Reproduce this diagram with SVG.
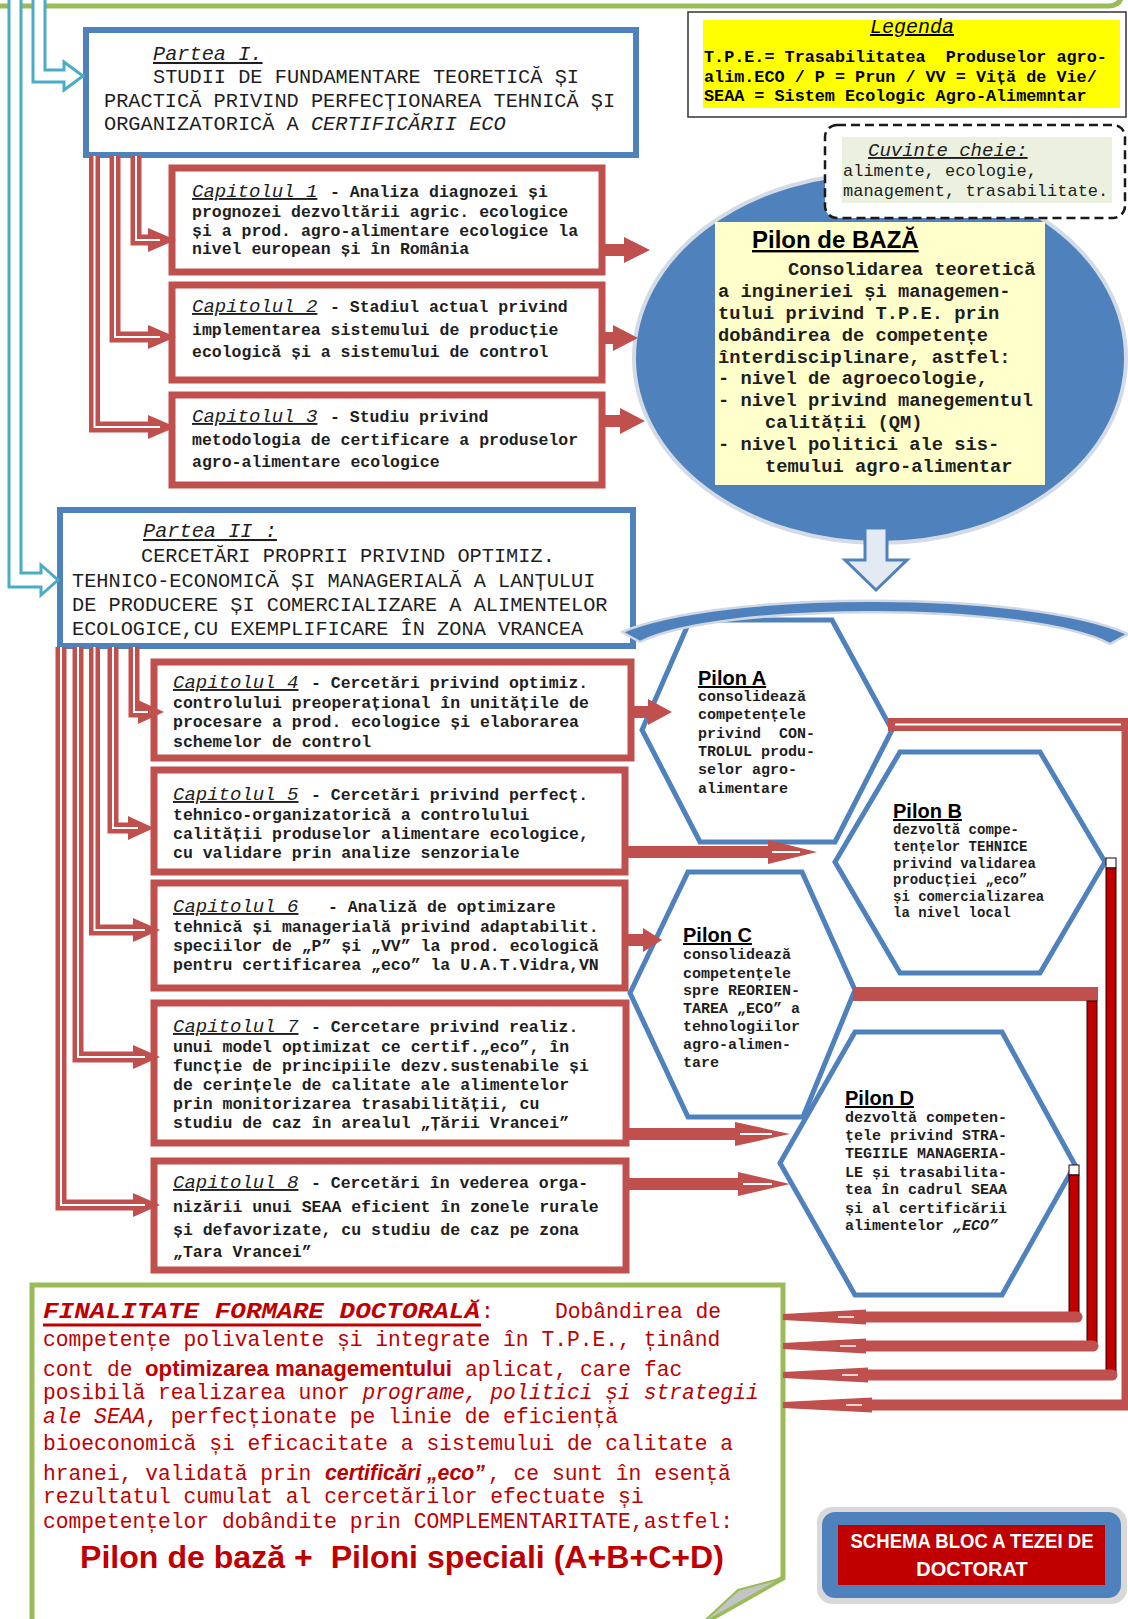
<svg xmlns="http://www.w3.org/2000/svg" width="1128" height="1619" viewBox="0 0 1128 1619">
<defs>
<style>
.mono{font-family:"Liberation Mono","DejaVu Sans Mono",monospace}
.sans{font-family:"Liberation Sans",Arial,sans-serif}
.pre{white-space:pre}
.part{fill:#fff;stroke:#4f81bd;stroke-width:6}
.chap{fill:#fff;stroke:#c0504d;stroke-width:7}
.hex{fill:none;stroke:#4f81bd;stroke-width:5;stroke-linejoin:miter}
.pt{font-size:20.3px;fill:#1e1e1e}
.ul{text-decoration:underline}
.it{font-style:italic}
.cap{font-size:19px;font-style:italic;text-decoration:underline;fill:#1e1e1e}
.ct{font-size:16.5px;font-weight:bold;fill:#1e1e1e}
.pl{font-size:20px;font-weight:bold;text-decoration:underline;fill:#000}
.pd{font-size:15px;font-weight:bold;fill:#1e1e1e}
.pdb{font-size:14px;font-weight:bold;fill:#1e1e1e}
.band{fill:none;stroke:#c0504d;stroke-width:11;stroke-linejoin:miter}
.slit{fill:none;stroke:#fff;stroke-width:2}
.head{fill:#c0504d}
.bar{fill:#c00000;stroke:#2a0000;stroke-width:1}
.cap-w{fill:#fff;stroke:#2a0000;stroke-width:1}
.fin{font-size:21.3px;fill:#c00000}
.cyan{fill:#fff;stroke:#4bacc6;stroke-width:3;stroke-linejoin:miter}
.leg{font-size:16.8px;font-weight:bold;fill:#000}
.kw{font-size:17px;fill:#1e1e1e}
.bz{font-size:18.75px;font-weight:bold;fill:#1e1e1e}
</style>
</defs>

<!-- page frame edge (bottom of the enclosing green border) -->
<path d="M-5 6 H1108 Q1122 6 1122 -8" fill="none" stroke="#9bbb59" stroke-width="5"/>

<!-- legend -->
<g id="legenda">
  <rect x="688" y="12" width="438" height="105" fill="#fff" stroke="#333" stroke-width="1.5"/>
  <rect x="703" y="20" width="417" height="88" fill="#ffff00"/>
  <text class="mono it ul" x="912" y="33" font-size="20" text-anchor="middle" fill="#000">Legenda</text>
  <text class="mono leg pre" x="704" y="62" xml:space="preserve">T.P.E.= Trasabilitatea  Produselor agro-</text>
  <text class="mono leg" x="704" y="82">alim.ECO / P = Prun / VV = Viță de Vie/</text>
  <text class="mono leg" x="704" y="101">SEAA = Sistem Ecologic Agro-Alimemntar</text>
</g>

<!-- part I -->
<g id="partea-1">
  <rect class="part" x="86" y="30" width="550" height="125"/>
  <text class="mono pt it ul" x="153" y="60">Partea I.</text>
  <text class="mono pt" x="153" y="83">STUDII DE FUNDAMENTARE TEORETICĂ ȘI</text>
  <text class="mono pt" x="104" y="107">PRACTICĂ PRIVIND PERFECȚIONAREA TEHNICĂ ȘI</text>
  <text class="mono pt" x="104" y="130">ORGANIZATORICĂ A <tspan font-style="italic">CERTIFICĂRII ECO</tspan></text>
</g>

<g id="cap1">
  <rect class="chap" x="172" y="168" width="430" height="104"/>
  <text class="mono cap" x="192" y="197">Capitolul 1</text>
  <text class="mono ct" x="330" y="197">- Analiza diagnozei și</text>
  <text class="mono ct" x="192" y="217">prognozei dezvoltării agric. ecologice</text>
  <text class="mono ct" x="192" y="236">și a prod. agro-alimentare ecologice la</text>
  <text class="mono ct" x="192" y="254">nivel european și în România</text>
</g>
<g id="cap2">
  <rect class="chap" x="172" y="285" width="430" height="95"/>
  <text class="mono cap" x="192" y="312">Capitolul 2</text>
  <text class="mono ct" x="330" y="312">- Stadiul actual privind</text>
  <text class="mono ct" x="192" y="335">implementarea sistemului de producție</text>
  <text class="mono ct" x="192" y="357">ecologică și a sistemului de control</text>
</g>
<g id="cap3">
  <rect class="chap" x="172" y="395" width="430" height="90"/>
  <text class="mono cap" x="192" y="422">Capitolul 3</text>
  <text class="mono ct" x="330" y="422">- Studiu privind</text>
  <text class="mono ct" x="192" y="445">metodologia de certificare a produselor</text>
  <text class="mono ct" x="192" y="467">agro-alimentare ecologice</text>
</g>

<!-- base pillar -->
<g id="pilon-baza">
  <ellipse cx="880" cy="358" rx="246" ry="185" fill="#4f81bd" stroke="#d3dbe6" stroke-width="4"/>
  <rect x="715" y="222" width="330" height="263" fill="#ffffcc"/>
  <text class="sans ul" x="752" y="248" font-size="24" font-weight="bold" fill="#000">Pilon de BAZĂ</text>
  <text class="mono bz" x="788" y="275">Consolidarea teoretică</text>
  <text class="mono bz" x="718" y="297">a ingineriei și managemen-</text>
  <text class="mono bz" x="718" y="319">tului privind T.P.E. prin</text>
  <text class="mono bz" x="718" y="341">dobândirea de competențe</text>
  <text class="mono bz" x="718" y="363">înterdisciplinare, astfel:</text>
  <text class="mono bz" x="718" y="384">- nivel de agroecologie,</text>
  <text class="mono bz" x="718" y="406">- nivel privind manegementul</text>
  <text class="mono bz" x="765" y="428">calității (QM)</text>
  <text class="mono bz" x="718" y="450">- nivel politici ale sis-</text>
  <text class="mono bz" x="765" y="472">temului agro-alimentar</text>
</g>

<!-- keywords -->
<g id="cuvinte-cheie">
  <rect x="825" y="125" width="300" height="93" rx="12" fill="#fff" stroke="#1a1a1a" stroke-width="2.5" stroke-dasharray="9 5"/>
  <rect x="842" y="137" width="270" height="66" fill="#ebf1de"/>
  <text class="mono it ul" x="868" y="156" font-size="19" fill="#1e1e1e">Cuvinte cheie:</text>
  <text class="mono kw" x="843" y="176">alimente, ecologie,</text>
  <text class="mono kw" x="843" y="196">management, trasabilitate.</text>
</g>

<!-- part II -->
<g id="partea-2">
  <rect class="part" x="60" y="510" width="573" height="136"/>
  <text class="mono pt it ul" x="143" y="537">Partea II :</text>
  <text class="mono pt" x="141" y="562">CERCETĂRI PROPRII PRIVIND OPTIMIZ.</text>
  <text class="mono pt" x="72" y="587">TEHNICO-ECONOMICĂ ȘI MANAGERIALĂ A LANȚULUI</text>
  <text class="mono pt" x="72" y="611">DE PRODUCERE ȘI COMERCIALIZARE A ALIMENTELOR</text>
  <text class="mono pt" x="72" y="635">ECOLOGICE,CU EXEMPLIFICARE ÎN ZONA VRANCEA</text>
</g>

<g id="cap4">
  <rect class="chap" x="154" y="662" width="477" height="96"/>
  <text class="mono cap" x="173" y="688">Capitolul 4</text>
  <text class="mono ct" x="311" y="688">- Cercetări privind optimiz.</text>
  <text class="mono ct" x="173" y="708">controlului preoperațional în unitățile de</text>
  <text class="mono ct" x="173" y="727">procesare a prod. ecologice și elaborarea</text>
  <text class="mono ct" x="173" y="747">schemelor de control</text>
</g>
<g id="cap5">
  <rect class="chap" x="154" y="770" width="471" height="102"/>
  <text class="mono cap" x="173" y="800">Capitolul 5</text>
  <text class="mono ct" x="311" y="800">- Cercetări privind perfecț.</text>
  <text class="mono ct" x="173" y="820">tehnico-organizatorică a controlului</text>
  <text class="mono ct" x="173" y="839">calității produselor alimentare ecologice,</text>
  <text class="mono ct" x="173" y="858">cu validare prin analize senzoriale</text>
</g>
<g id="cap6">
  <rect class="chap" x="154" y="883" width="471" height="105"/>
  <text class="mono cap" x="173" y="912">Capitolul 6</text>
  <text class="mono ct" x="328" y="912">- Analiză de optimizare</text>
  <text class="mono ct" x="173" y="932">tehnică și managerială privind adaptabilit.</text>
  <text class="mono ct" x="173" y="951">speciilor de „P” și „VV” la prod. ecologică</text>
  <text class="mono ct" x="173" y="970">pentru certificarea „eco” la U.A.T.Vidra,VN</text>
</g>
<g id="cap7">
  <rect class="chap" x="154" y="1003" width="472" height="140"/>
  <text class="mono cap" x="173" y="1032">Capitolul 7</text>
  <text class="mono ct" x="311" y="1032">- Cercetare privind realiz.</text>
  <text class="mono ct" x="173" y="1052">unui model optimizat ce certif.„eco”, în</text>
  <text class="mono ct" x="173" y="1071">funcție de principiile dezv.sustenabile și</text>
  <text class="mono ct" x="173" y="1090">de cerințele de calitate ale alimentelor</text>
  <text class="mono ct" x="173" y="1109">prin monitorizarea trasabilității, cu</text>
  <text class="mono ct" x="173" y="1128">studiu de caz în arealul „Țării Vrancei”</text>
</g>
<g id="cap8">
  <rect class="chap" x="154" y="1161" width="472" height="109"/>
  <text class="mono cap" x="173" y="1188">Capitolul 8</text>
  <text class="mono ct" x="311" y="1188">- Cercetări în vederea orga-</text>
  <text class="mono ct" x="173" y="1212">nizării unui SEAA eficient în zonele rurale</text>
  <text class="mono ct" x="173" y="1235">și defavorizate, cu studiu de caz pe zona</text>
  <text class="mono ct" x="173" y="1257">„Tara Vrancei”</text>
</g>

<!-- special pillars -->
<g id="pilon-a">
  <polygon class="hex" points="642,730 690,620 832,620 892,730 835,842 700,842"/>
  <text class="sans pl" x="698" y="685">Pilon A</text>
  <text class="mono pd" x="698" y="701">consolidează</text>
  <text class="mono pd" x="698" y="719">competențele</text>
  <text class="mono pd pre" x="698" y="738" xml:space="preserve">privind  CON-</text>
  <text class="mono pd" x="698" y="756">TROLUL produ-</text>
  <text class="mono pd" x="698" y="774">selor agro-</text>
  <text class="mono pd" x="698" y="793">alimentare</text>
</g>
<g id="pilon-b">
  <polygon class="hex" points="835,862 900,752 1040,752 1105,862 1040,973 900,973"/>
  <text class="sans pl" x="893" y="818">Pilon B</text>
  <text class="mono pdb" x="893" y="834">dezvoltă compe-</text>
  <text class="mono pdb" x="893" y="851">tențelor TEHNICE</text>
  <text class="mono pdb" x="893" y="868">privind validarea</text>
  <text class="mono pdb" x="893" y="884">producției „eco”</text>
  <text class="mono pdb" x="893" y="901">și comercializarea</text>
  <text class="mono pdb" x="893" y="917">la nivel local</text>
</g>
<g id="pilon-c">
  <polygon class="hex" points="630,993 688,872 802,872 855,990 803,1117 688,1117"/>
  <text class="sans pl" x="683" y="942">Pilon C</text>
  <text class="mono pd" x="683" y="959">consolidează</text>
  <text class="mono pd" x="683" y="978">competențele</text>
  <text class="mono pd" x="683" y="995">spre REORIEN-</text>
  <text class="mono pd" x="683" y="1013">TAREA „ECO” a</text>
  <text class="mono pd" x="683" y="1031">tehnologiilor</text>
  <text class="mono pd" x="683" y="1049">agro-alimen-</text>
  <text class="mono pd" x="683" y="1067">tare</text>
</g>
<g id="pilon-d">
  <polygon class="hex" points="780,1163 855,1032 1002,1032 1075,1165 1002,1295 855,1295"/>
  <text class="sans pl" x="845" y="1105">Pilon D</text>
  <text class="mono pd" x="845" y="1122">dezvoltă competen-</text>
  <text class="mono pd" x="845" y="1140">țele privind STRA-</text>
  <text class="mono pd" x="845" y="1158">TEGIILE MANAGERIA-</text>
  <text class="mono pd" x="845" y="1177">LE și trasabilita-</text>
  <text class="mono pd" x="845" y="1194">tea în cadrul SEAA</text>
  <text class="mono pd" x="845" y="1213">și al certificării</text>
  <text class="mono pd" x="845" y="1230">alimentelor <tspan font-style="italic">„ECO”</tspan></text>
</g>

<!-- final outcome -->
<g id="finalitate">
  <path d="M32 1625 V1285 H783 V1578 L700 1625" fill="#fff" stroke="#9bbb59" stroke-width="5"/>
  <polygon points="783,1578 700,1625 738,1590" fill="#c4c4c4" stroke="#9bbb59" stroke-width="2"/>
  <text class="mono fin" x="43" y="1318" font-size="24" font-weight="bold" font-style="italic" textLength="437" lengthAdjust="spacingAndGlyphs">FINALITATE FORMARE DOCTORALĂ</text>
  <line x1="43" y1="1325" x2="481" y2="1325" stroke="#c00000" stroke-width="3"/>
  <text class="mono fin" x="481" y="1318">:</text>
  <text class="mono fin" x="555" y="1318">Dobândirea de</text>
  <text class="mono fin" x="43" y="1346">competențe polivalente și integrate în T.P.E., ținând</text>
  <text class="mono fin" x="43" y="1376">cont de</text>
  <text class="sans" x="145" y="1376" font-size="22" font-weight="bold" fill="#c00000" textLength="307" lengthAdjust="spacingAndGlyphs">optimizarea managementului</text>
  <text class="mono fin" x="465" y="1376">aplicat, care fac</text>
  <text class="mono fin pre" x="43" y="1399" xml:space="preserve">posibilă realizarea unor <tspan font-style="italic">programe, politici și strategii</tspan></text>
  <text class="mono fin" x="43" y="1423"><tspan font-style="italic">ale SEAA</tspan>, perfecționate pe linie de eficiență</text>
  <text class="mono fin" x="43" y="1450">bioeconomică și eficacitate a sistemului de calitate a</text>
  <text class="mono fin" x="43" y="1480">hranei, validată prin</text>
  <text class="sans" x="325" y="1480" font-size="22" font-weight="bold" font-style="italic" fill="#c00000" textLength="160" lengthAdjust="spacingAndGlyphs">certificări „eco”</text>
  <text class="mono fin" x="488" y="1480">, ce sunt în esență</text>
  <text class="mono fin" x="43" y="1503">rezultatul cumulat al cercetărilor efectuate și</text>
  <text class="mono fin" x="43" y="1528">competențelor dobândite prin COMPLEMENTARITATE,astfel:</text>
  <text class="sans pre" x="80" y="1568" font-size="31" font-weight="bold" fill="#c00000" textLength="644" lengthAdjust="spacingAndGlyphs" xml:space="preserve">Pilon de bază +  Piloni speciali (A+B+C+D)</text>
</g>

<!-- title badge -->
<g id="titlu">
  <rect x="817" y="1507" width="310" height="97" rx="15" fill="#d9d9d9"/>
  <rect x="822" y="1512" width="299" height="86" rx="13" fill="#4f81bd"/>
  <rect x="838" y="1525" width="267" height="60" fill="#c00000"/>
  <text class="sans" x="972" y="1548" font-size="20" font-weight="bold" fill="#fff" text-anchor="middle" textLength="243" lengthAdjust="spacingAndGlyphs">SCHEMA BLOC A TEZEI DE</text>
  <text class="sans" x="972" y="1576" font-size="20" font-weight="bold" fill="#fff" text-anchor="middle">DOCTORAT</text>
</g>

<!-- connectors -->
<g id="connectors">
  <!-- entry arrows into the two parts -->
  <polygon class="cyan" points="9,-5 21,-5 21,573 41,573 41,565 58,580 41,595 41,587 9,587"/>
  <polygon class="cyan" points="33,-5 45,-5 45,70 64,70 64,62 83,76 64,90 64,82 33,82"/>

  <!-- part I to chapters 1-3 -->
  <path class="band" d="M136 156 V240 H150"/>
  <path class="band" d="M115 156 V337 H150"/>
  <path class="band" d="M94.5 156 V427 H150"/>
  <polygon class="head" points="148,228 176,240 148,252"/>
  <polygon class="head" points="148,325 176,337 148,349"/>
  <polygon class="head" points="148,415 176,427 148,439"/>
  <path class="slit" d="M136 156 V240 H160"/>
  <path class="slit" d="M115 156 V337 H160"/>
  <path class="slit" d="M94.5 156 V427 H160"/>

  <!-- part II to chapters 4-8 -->
  <path class="band" d="M134 647 V712 H140"/>
  <path class="band" d="M113 647 V828 H130"/>
  <path class="band" d="M94.5 647 V930 H135"/>
  <path class="band" d="M78 647 V1057 H135"/>
  <path class="band" d="M61 647 V1205 H135"/>
  <polygon class="head" points="138,700 164,712 138,724"/>
  <polygon class="head" points="128,816 154,828 128,840"/>
  <polygon class="head" points="133,918 160,930 133,942"/>
  <polygon class="head" points="133,1045 160,1057 133,1069"/>
  <polygon class="head" points="133,1193 160,1205 133,1217"/>
  <path class="slit" d="M134 647 V712 H148"/>
  <path class="slit" d="M113 647 V828 H138"/>
  <path class="slit" d="M94.5 647 V930 H145"/>
  <path class="slit" d="M78 647 V1057 H145"/>
  <path class="slit" d="M61 647 V1205 H145"/>

  <!-- chapters 1-3 to base pillar -->
  <polygon class="head" points="603,244 624,244 624,237 650,250 624,263 624,256 603,256"/>
  <polygon class="head" points="603,332 613,332 613,325 638,338 613,351 613,344 603,344"/>
  <polygon class="head" points="603,415 620,415 620,408 645,421 620,434 620,427 603,427"/>

  <!-- chapters 4-8 to special pillars -->
  <polygon class="head" points="632,706 648,706 648,699 672,712 648,725 648,718 632,718"/>
  <polygon class="head" points="626,846 768,846 768,840 817,852 768,864 768,858 626,858"/>
  <line class="slit" x1="772" y1="852" x2="800" y2="852"/>
  <polygon class="head" points="626,934 643,934 643,928 662,940 643,952 643,946 626,946"/>
  <polygon class="head" points="626,1128 735,1128 735,1122 790,1134 735,1146 735,1140 626,1140"/>
  <line class="slit" x1="740" y1="1134" x2="772" y2="1134"/>
  <polygon class="head" points="626,1178 738,1178 738,1172 790,1184 738,1196 738,1190 626,1190"/>
  <line class="slit" x1="743" y1="1184" x2="772" y2="1184"/>

  <!-- base pillar down to the special pillars -->
  <polygon points="865,528 887,528 887,560 907,560 876,590 845,560 865,560" fill="#e4eaf3" stroke="#4f81bd" stroke-width="3"/>
  <path d="M622 632 C720 590 1030 590 1128 634 L1110 644 C1030 602 720 602 640 642 Z" fill="#4f81bd" stroke="#cfd7e3" stroke-width="2.5" stroke-linejoin="round"/>

  <!-- pillars to final outcome -->
  <path d="M888 724.5 H1128 V1405" fill="none" stroke="#c0504d" stroke-width="13"/>
  <path d="M895 724.5 H1121" class="slit"/>
  <rect class="cap-w" x="1106" y="858" width="10" height="10"/>
  <rect class="bar" x="1106" y="868" width="10" height="504"/>
  <rect x="853" y="987" width="245" height="14" fill="#c0504d"/>
  <rect class="bar" x="1087" y="1001" width="10" height="342"/>
  <rect class="cap-w" x="1069" y="1165" width="10" height="10"/>
  <rect class="bar" x="1069" y="1175" width="10" height="138"/>

  <path class="head" d="M783 1314 L866 1309.5 V1311.5 H1077 A5.5 5.5 0 0 1 1077 1322.5 H866 V1324.5 L783 1320 Z"/>
  <path class="head" d="M783 1343 L866 1338.5 V1340.5 H1093 A5.5 5.5 0 0 1 1093 1351.5 H866 V1353.5 L783 1349 Z"/>
  <path class="head" d="M783 1372 L868 1367.5 V1369.5 H1112 A5.5 5.5 0 0 1 1112 1380.5 H868 V1382.5 L783 1378 Z"/>
  <path class="head" d="M783 1402 L872 1397.5 V1399.5 H1134 V1410.5 H872 V1412.5 L783 1408 Z"/>
  <line x1="838" y1="1317" x2="854" y2="1317" stroke="#fff" stroke-width="1.5"/>
  <line x1="840" y1="1346" x2="856" y2="1346" stroke="#fff" stroke-width="1.5"/>
  <line x1="842" y1="1375" x2="858" y2="1375" stroke="#fff" stroke-width="1.5"/>
  <line x1="846" y1="1405" x2="862" y2="1405" stroke="#fff" stroke-width="1.5"/>
</g>
</svg>
